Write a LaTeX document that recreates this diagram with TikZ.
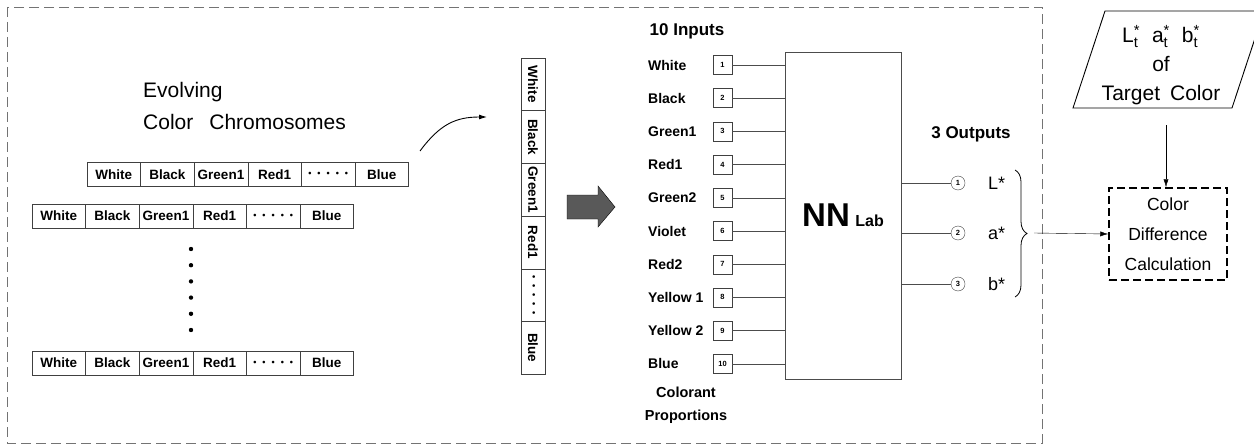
\documentclass[tikz,border=0pt]{standalone}
\usepackage{fontspec}
\usepackage{amsmath}
\setmainfont{Liberation Sans}
\usetikzlibrary{arrows.meta,positioning,decorations.pathreplacing}

\newcommand{\fivedots}{{\fontsize{9}{9}\selectfont\textbullet\hspace{6pt}\textbullet\hspace{6pt}\textbullet\hspace{6pt}\textbullet\hspace{6pt}\textbullet}}
\newcommand{\tgt}[1]{#1$^{\textnormal{*}}_{\textnormal{t}}$}

\begin{document}
\begin{tikzpicture}[x=1pt, y=-1pt, >={Latex[length=8pt,width=5pt]},
  cell/.style={draw=black!75, minimum width=53.6, minimum height=24, inner sep=0pt, font=\fontsize{13.5}{13.5}\selectfont\bfseries},
  vcell/.style={cell, minimum width=52.7, rotate=-90},
  inlab/.style={anchor=west, inner sep=0pt, font=\fontsize{14}{14}\selectfont\bfseries},
  numbox/.style={draw=black!75, minimum size=19, inner sep=0pt, font=\fontsize{7.5}{7.5}\selectfont\bfseries},
  outc/.style={draw=black!75, circle, minimum size=14, inner sep=0pt, font=\fontsize{7.5}{7.5}\selectfont\bfseries},
  title/.style={font=\fontsize{17}{17}\selectfont\bfseries, inner sep=0pt}]
\useasboundingbox (0,0) rectangle (1254,444);
\draw[black!55, line width=0.7pt, dash pattern=on 10pt off 5pt] (7,7) rectangle (1042,443);

% evolving chromosomes
\node[anchor=west, align=left, inner sep=0pt, font=\fontsize{21}{32}\selectfont] (evo) at (143,106)
  {Evolving\\Color\hspace{16pt}Chromosomes};
\foreach \lab [count=\i] in {White,Black,Green1,Red1,\fivedots,Blue} {
  \node[cell] (ra\i) at (87+53.6*\i-26.8,174.5) {\lab};
  \node[cell] (rb\i) at (32+53.6*\i-26.8,216) {\lab};
  \node[cell] (rc\i) at (32+53.6*\i-26.8,363) {\lab};
  \node[vcell] (vc\i) at (533,58+52.7*\i-26.35) {\lab};
}
\foreach \k in {0,...,5}
  \fill (191,249+16.2*\k) circle (2.2pt);
\coordinate (curvstart) at (420,151);
\coordinate (curvend) at (487,117);
\draw[->, line width=0.9pt] (curvstart) .. controls (440,124) and (456,117) .. (curvend);

% big arrow
\fill[black!65, draw=black] (567,195) -- (598,195) -- (598,186) -- (615,207) -- (598,227) -- (598,219) -- (567,219) -- cycle;

% network
\node[title] (inputs) at (687,31) {10 Inputs};
\node[draw=black!70, minimum width=116, minimum height=327, inner sep=0pt, font=\bfseries] (nn) at (843,215.5)
  {\fontsize{33}{33}\selectfont NN\,\fontsize{16}{16}\selectfont Lab};
\foreach \lab [count=\i] in {White,Black,Green1,Red1,Green2,Violet,Red2,Yellow 1,Yellow 2,Blue} {
  \node[inlab] (in\i) at (648,65+33.2*\i-33.2) {\lab};
  \node[numbox] (n\i) at (722.5,65+33.2*\i-33.2) {\i};
  \draw[black!70] (n\i.east) -- (n\i.east -| nn.west);
}
\node[align=center, inner sep=0pt, font=\fontsize{14.5}{23}\selectfont\bfseries] (prop) at (686,405) {Colorant\\Proportions};

\node[title] (outputs) at (971,134) {3 Outputs};
\foreach \lab/\yy [count=\i] in {L*/183,a*/233,b*/284} {
  \node[outc] (o\i) at (958,\yy) {\i};
  \draw[black!70] (o\i.west -| nn.east) -- (o\i.west);
  \node[anchor=west, inner sep=0pt, font=\fontsize{18}{18}\selectfont] (lo\i) at (988,\yy) {\lab};
}
\draw[decorate, decoration={brace, amplitude=12pt}, line width=0.8pt] (1015,170) -- (1015,297);
\coordinate (bracetip) at (1034,233);

% colour difference
\node[draw, line width=1.5pt, dash pattern=on 8pt off 4pt, minimum width=118, minimum height=92, align=center,
  font=\fontsize{17.5}{30}\selectfont] (cdc) at (1168,234) {Color\\Difference\\Calculation};
\draw[->] (bracetip) -- (cdc.west);

\node[align=center, inner sep=0pt, font=\fontsize{21}{29}\selectfont] (target) at (1161,65)
  {\tgt{L}\hspace{12pt}\tgt{a}\hspace{12pt}\tgt{b}\\of\\Target\hspace{10pt}Color};
\draw[line width=0.9pt] (1105,11) -- (1264,11) -- (1232,108) -- (1073,108) -- cycle;
\coordinate (tgtout) at (1166,125);
\draw[->] (tgtout) -- (tgtout |- cdc.north);
\end{tikzpicture}
\end{document}
